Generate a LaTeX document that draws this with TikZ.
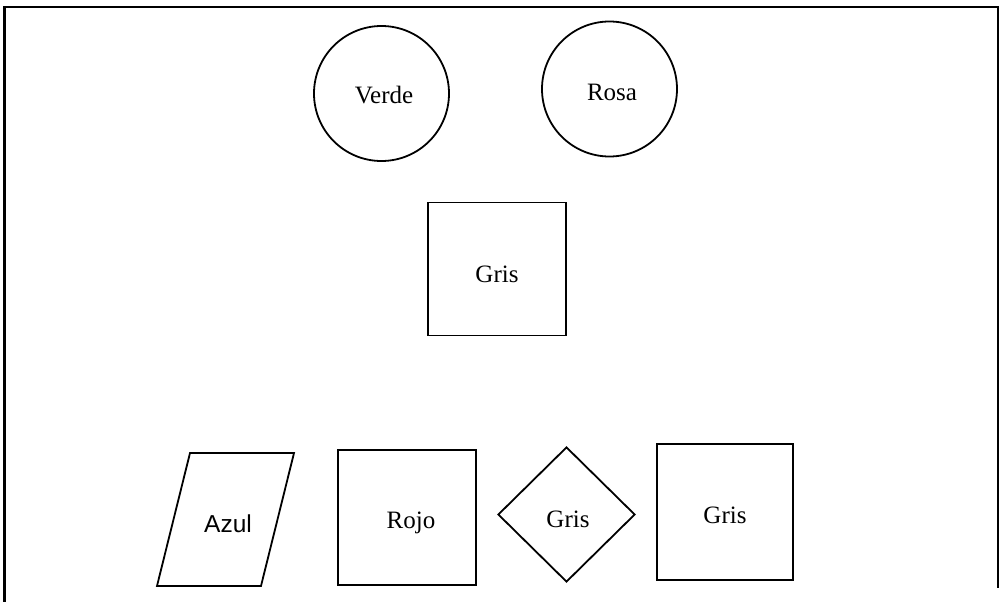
\documentclass[tikz,border=0pt]{standalone}
\usepackage{fontspec}
\setmainfont{Liberation Serif}
\newfontfamily\azulfont{Liberation Sans}
\usetikzlibrary{shapes.geometric}

\tikzset{
  shapeline/.style={draw=black, line width=1.8pt, inner sep=0pt},
  roundbox/.style={shapeline, circle},
  squarebox/.style={shapeline, rectangle},
  diamondbox/.style={shapeline, diamond},
  lbl/.style={anchor=base, inner sep=0pt, font=\fontsize{25}{29}\selectfont},
  sanslbl/.style={lbl, font=\azulfont\fontsize{24.5}{29}\selectfont},
  frameline/.style={draw=black, line width=2.2pt}
}

\begin{document}
\begin{tikzpicture}[x=1pt, y=-1pt]
  \useasboundingbox (0,0) rectangle (1001,602);

  % open frame (no bottom edge)
  \draw[frameline] (4.5,602) -- (4.5,7) -- (998,7) -- (998,588);

  % top row: two circles
  \node[roundbox, minimum size=135pt] (verde) at (381.5,93.5) {};
  \node[roundbox, minimum size=135pt] (rosa)  at (609.5,89) {};
  \node[lbl] (tverde) at (384,103) {Verde};
  \node[lbl] (trosa)  at (612,100) {Rosa};

  % middle square
  \node[squarebox, minimum width=138pt, minimum height=133pt] (grismid) at (497,269) {};
  \node[lbl] (tgrismid) at (497,282) {Gris};

  % bottom row
  \coordinate (azbl) at (157,586);
  \coordinate (aztl) at (190,453);
  \coordinate (aztr) at (294,453);
  \coordinate (azbr) at (261,586);
  \draw[shapeline] (azbl) -- (aztl) -- (aztr) -- (azbr) -- cycle;
  \node[sanslbl] (tazul) at (228,532) {Azul};

  \node[squarebox, minimum width=138pt, minimum height=135pt] (rojo) at (407,517.5) {};
  \node[lbl] (trojo) at (411,528) {Rojo};

  \node[diamondbox, minimum width=137pt, minimum height=135pt] (grisdia) at (566.5,514.5) {};
  \node[lbl] (tgrisdia) at (568,527) {Gris};

  \node[squarebox, minimum width=136pt, minimum height=136pt] (grisright) at (725,512) {};
  \node[lbl] (tgrisright) at (725,523) {Gris};
\end{tikzpicture}
\end{document}
